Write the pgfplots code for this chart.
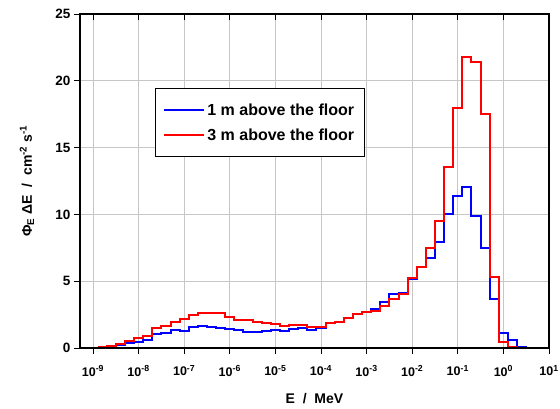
\documentclass[border=0pt]{standalone}
\usepackage{fontspec}
\setmainfont{Liberation Sans}
\usepackage{pgfplots}
\usepackage{pgfplotstable}
\pgfplotsset{compat=1.18}
\pgfplotstableread{
x blue red
1.2589e-9 0.02 0.07
1.9953e-9 0.10 0.17
3.1623e-9 0.20 0.30
5.0119e-9 0.35 0.52
7.9433e-9 0.47 0.75
1.2589e-8 0.62 0.90
1.9953e-8 1.02 1.52
3.1623e-8 1.10 1.68
5.0119e-8 1.35 1.95
7.9433e-8 1.30 2.20
1.2589e-7 1.55 2.50
1.9953e-7 1.62 2.64
3.1623e-7 1.60 2.64
5.0119e-7 1.53 2.60
7.9433e-7 1.40 2.35
1.2589e-6 1.35 2.12
1.9953e-6 1.20 2.06
3.1623e-6 1.20 1.97
5.0119e-6 1.25 1.85
7.9433e-6 1.32 1.82
1.2589e-5 1.27 1.62
1.9953e-5 1.42 1.70
3.1623e-5 1.47 1.70
5.0119e-5 1.35 1.60
7.9433e-5 1.50 1.60
1.2589e-4 1.85 1.88
1.9953e-4 1.92 1.95
3.1623e-4 2.28 2.25
5.0119e-4 2.57 2.58
7.9433e-4 2.70 2.70
1.2589e-3 2.92 2.78
1.9953e-3 3.47 3.17
3.1623e-3 4.02 3.67
5.0119e-3 4.09 4.04
7.9433e-3 5.14 5.21
1.2589e-2 6.04 6.04
1.9953e-2 6.71 7.46
3.1623e-2 7.96 9.50
5.0119e-2 10.03 13.57
7.9433e-2 11.38 18.00
1.2589e-1 12.05 21.76
1.9953e-1 9.90 21.40
3.1623e-1 7.46 17.50
5.0119e-1 3.70 5.32
7.9433e-1 1.15 0.42
1.2589 0.58 0.10
1.9953 0.10 0.03
3.1623 0.02 0.03
5.0119 0.02 0.03
}\data
\begin{document}
\begin{tikzpicture}
\path[use as bounding box] (-80pt,-60pt) rectangle (480pt,348pt);
\begin{axis}[
  at={(0pt,0pt)}, anchor=south west,
  scale only axis, width=469pt, height=334pt,
  xmode=log, log basis x=10,
  xmin=5.19e-10, xmax=10, ymin=0, ymax=25,
  xtick={1e-9,1e-8,1e-7,1e-6,1e-5,1e-4,1e-3,1e-2,1e-1,1e0,1e1},
  xticklabels={10\textsuperscript{-9},10\textsuperscript{-8},10\textsuperscript{-7},10\textsuperscript{-6},10\textsuperscript{-5},10\textsuperscript{-4},10\textsuperscript{-3},10\textsuperscript{-2},10\textsuperscript{-1},10\textsuperscript{0},10\textsuperscript{1}},
  ytick={0,5,10,15,20,25},
  xtick pos=bottom, ytick pos=left,
  tick align=outside,
  major tick length=6pt, minor tick length=4pt,
  every tick/.style={black, line width=0.9pt},
  axis line style={line width=1.8pt},
  grid=major,
  major grid style={color=black!22, line width=0.9pt},
  /pgf/number format/assume math mode=true,
  xticklabel style={font=\bfseries\fontsize{12.5}{14}\selectfont, yshift=-8pt},
  yticklabel style={font=\bfseries\fontsize{13.5}{15}\selectfont},
  xlabel={\textbf{E \ / \ MeV}},
  xlabel style={font=\fontsize{14}{16}\selectfont, at={(axis description cs:0.5,0)}, anchor=center, yshift=-51pt},
  ylabel={\textbf{Φ\textsubscript{E} ΔE \ / \ cm\textsuperscript{-2} s\textsuperscript{-1}}},
  ylabel style={font=\fontsize{14}{16}\selectfont, at={(axis description cs:0,0.5)}, anchor=center, yshift=53pt},
  legend style={at={(rel axis cs:0.16,0.778)}, anchor=north west, draw=black, line width=0.7pt,
    font=\bfseries\fontsize{16}{18}\selectfont, inner xsep=8pt, inner ysep=13pt, row sep=8pt},
  legend cell align=left,
  legend image code/.code={\path (0pt,0pt) -- (40pt,0pt); \draw[#1, line width=2pt] (0pt,0pt) -- (37pt,0pt);},
]
\addplot[const plot mark left, blue, line width=2pt] table[x=x, y=blue] {\data};
\addlegendentry{1 m above the floor}
\addplot[const plot mark left, red, line width=2pt] table[x=x, y=red] {\data};
\addlegendentry{3 m above the floor}
\end{axis}
\begin{axis}[
  at={(0pt,0pt)}, anchor=south west,
  scale only axis, width=469pt, height=334pt,
  xmode=log, log basis x=10,
  xmin=5.19e-10, xmax=10, ymin=0, ymax=25,
  xtick={1e-9,1e-8,1e-7,1e-6,1e-5,1e-4,1e-3,1e-2,1e-1,1e0,1e1},
  xticklabels={}, ytick=\empty,
  xtick pos=top, tick align=inside,
  major tick length=6pt, minor tick length=4pt,
  every tick/.style={black, line width=0.9pt},
  axis line style={line width=1.8pt},
]
\end{axis}
\end{tikzpicture}
\end{document}
